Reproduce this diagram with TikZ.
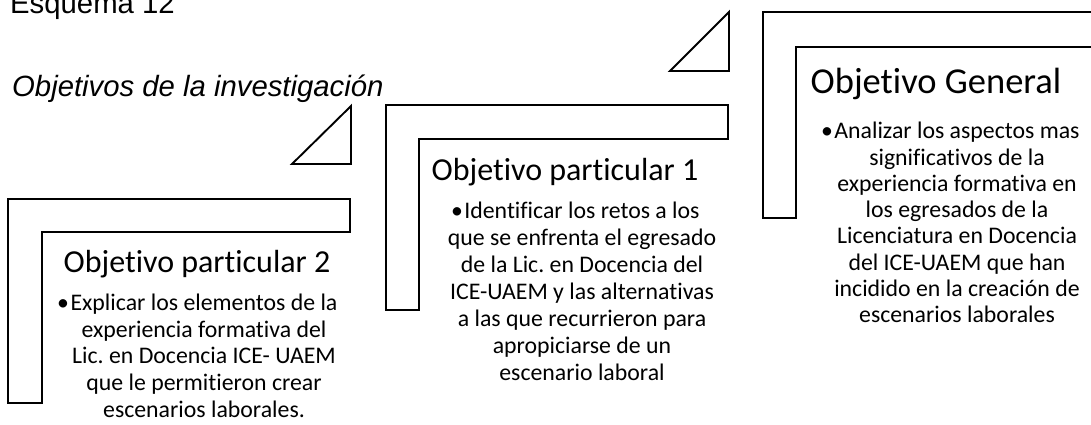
\documentclass[tikz,border=0pt]{standalone}
\usepackage{fontspec}
\setmainfont{Carlito}[Ligatures=NoCommon]
\newfontfamily\arialfont{Liberation Sans}
\frenchspacing

\tikzset{
  lbox/.style={line width=1.9pt, line join=miter},
  heading/.style={anchor=base, inner sep=0pt, font=\fontsize{32}{38}\selectfont},
  body/.style={anchor=north, inner sep=0pt, align=center, font=\fontsize{23.8}{27}\selectfont},
  caption/.style={anchor=base west, inner sep=0pt, font=\arialfont\fontsize{29.3}{35}\selectfont},
}
\newcommand{\hangbullet}{\llap{\textbullet\hspace{1.5pt}}}

\begin{document}
\begin{tikzpicture}[x=1pt, y=-1pt]

% Page
\fill[white] (0,0) rectangle (1091,424);
\useasboundingbox (0,0) rectangle (1091,424);

% Caption
\node[caption] (esquema) at (10,13) {Esquema 12};
\node[caption, font=\arialfont\itshape\fontsize{29.3}{35}\selectfont] (titulo) at (12,96) {Objetivos de la investigación};

% Step shapes (left to right)
\draw[lbox] (8,199) -- (350,199) -- (350,232) -- (42,232) -- (42,403) -- (8,403) -- cycle;
\draw[lbox] (386,105) -- (728,105) -- (728,139) -- (419,139) -- (419,310) -- (386,310) -- cycle;
\draw[lbox] (763,12) -- (1105,12) -- (1105,47) -- (796,47) -- (796,218) -- (763,218) -- cycle;

% Arrow triangles
\draw[lbox] (292,164) -- (351,106) -- (351,164) -- cycle;
\draw[lbox] (670,71) -- (729,12) -- (729,71) -- cycle;

% Headings
\node[heading] (op2) at (197,272) {Objetivo particular 2};
\node[heading] (op1) at (565,180) {Objetivo particular 1};
\node[heading, font=\fontsize{36.5}{42}\selectfont] (og) at (936,93) {Objetivo General};

% Texts
\node[body, font=\fontsize{23.8}{26.6}\selectfont] (op2text) at (204,294) {\hangbullet Explicar los elementos de la\\
  experiencia formativa del\\ Lic. en Docencia ICE- UAEM\\
  que le permitieron crear\\ escenarios laborales.};
\node[body] (op1text) at (582,202) {\hangbullet Identificar los retos a los\\
  que se enfrenta el egresado\\ de la Lic. en Docencia del\\
  ICE-UAEM y las alternativas\\ a las que recurrieron para\\
  apropiciarse de un\\ escenario laboral};
\node[body, font=\fontsize{23.8}{26.3}\selectfont] (ogtext) at (957,122) {\hangbullet Analizar los aspectos mas\\
  significativos de la\\ experiencia formativa en\\
  los egresados de la\\ Licenciatura en Docencia\\
  del ICE-UAEM que han\\ incidido en la creación de\\
  escenarios laborales};

\end{tikzpicture}
\end{document}
